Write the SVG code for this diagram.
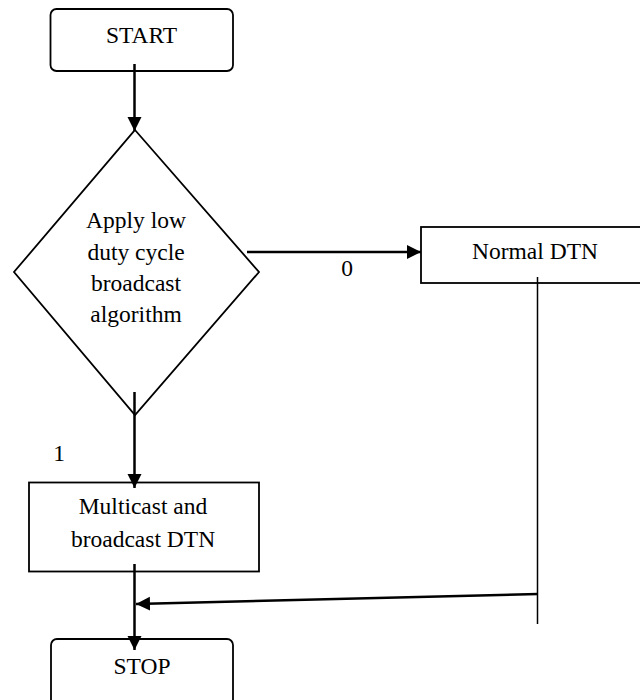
<svg xmlns="http://www.w3.org/2000/svg" width="640" height="700" viewBox="0 0 640 700">
<defs>
<style>
.shape{fill:#fff;stroke:#000;stroke-width:1.8}
.c{fill:none;stroke:#000;stroke-width:2.5}
.thin{fill:none;stroke:#000;stroke-width:1.5}
</style>
<marker id="ah" markerUnits="userSpaceOnUse" markerWidth="15" markerHeight="15" viewBox="0 0 15 15" refX="14" refY="7.5" orient="auto">
<path d="M0,0.5 L14,7.5 L0,14.5 Z" fill="#000"/>
</marker>
</defs>
<rect width="640" height="700" fill="#fff"/>
<g font-family="Liberation Serif" font-size="23.5" fill="#000" text-anchor="middle">
<g id="start">
<rect class="shape" x="50.5" y="9" width="182.5" height="62" rx="6"/>
<text x="141.5" y="43">START</text>
</g>
<g id="decision">
<polygon class="shape" points="135,130 259,272 135,415 14,272"/>
<text x="136" y="228">Apply low</text>
<text x="136" y="259.5">duty cycle</text>
<text x="136" y="291">broadcast</text>
<text x="136" y="322">algorithm</text>
</g>
<g id="normal">
<rect class="shape" x="421" y="227" width="230" height="56"/>
<text x="535" y="259">Normal DTN</text>
</g>
<g id="multicast">
<rect class="shape" x="29" y="482.5" width="230" height="89"/>
<text x="143" y="514">Multicast and</text>
<text x="143" y="547">broadcast DTN</text>
</g>
<g id="stop">
<rect class="shape" x="51" y="639" width="182" height="70" rx="6"/>
<text x="142" y="674">STOP</text>
</g>
<g id="connectors">
<line class="c" x1="134.5" y1="64" x2="134.5" y2="131" marker-end="url(#ah)"/>
<line class="c" x1="247" y1="252" x2="421" y2="252" marker-end="url(#ah)"/>
<line class="c" x1="134.5" y1="392" x2="134.5" y2="488" marker-end="url(#ah)"/>
<line class="c" x1="134.5" y1="564" x2="134.5" y2="650" marker-end="url(#ah)"/>
<line class="thin" x1="537.5" y1="277" x2="537.5" y2="624"/>
<line class="c" x1="538" y1="594" x2="136" y2="604" marker-end="url(#ah)"/>
<text x="347" y="276">0</text>
<text x="59" y="461">1</text>
</g>
</g>
</svg>
